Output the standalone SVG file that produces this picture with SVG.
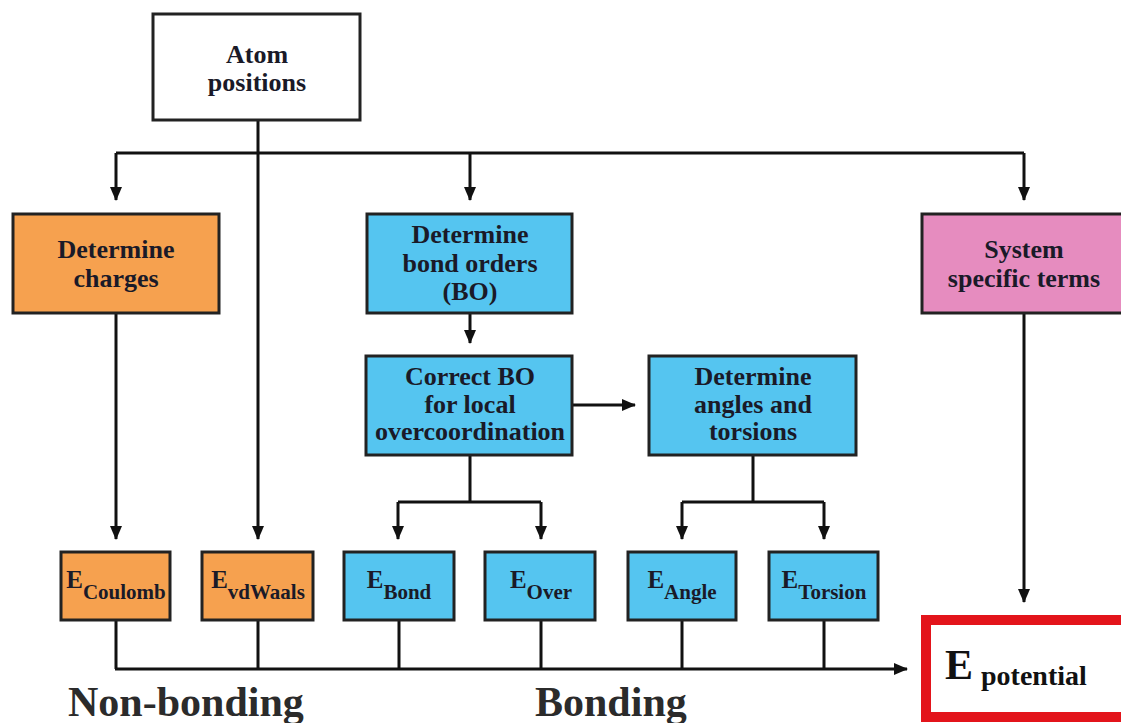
<svg xmlns="http://www.w3.org/2000/svg" width="1121" height="723" viewBox="0 0 1121 723">
<defs>
<marker id="ah" markerUnits="userSpaceOnUse" markerWidth="14" markerHeight="16" refX="13" refY="6" orient="auto">
<path d="M0,0 L14,6 L0,12 Z" fill="#111"/>
</marker>
<style>
.box{stroke:#222;stroke-width:3}
.white{fill:#fff}
.org{fill:#F6A14F}
.blu{fill:#55C5F0}
.pnk{fill:#E68CBF}
.t{font-family:"Liberation Serif","Times New Roman",serif;font-weight:bold;font-size:26px;fill:#1a1a28;text-anchor:middle}
.E{font-size:25px}
.sub{font-size:21px}
.c{fill:none;stroke:#111;stroke-width:3}
.big{font-family:"Liberation Serif","Times New Roman",serif;font-weight:bold;font-size:42px;fill:#2b2b2b}
</style>
</defs>
<rect width="1121" height="723" fill="#fff"/>
<g id="connectors">
<path class="c" d="M258 120 V539" marker-end="url(#ah)"/>
<path class="c" d="M116 153 H1024"/>
<path class="c" d="M116 153 V200" marker-end="url(#ah)"/>
<path class="c" d="M470 153 V200" marker-end="url(#ah)"/>
<path class="c" d="M1024 153 V200" marker-end="url(#ah)"/>
<path class="c" d="M116 313 V539" marker-end="url(#ah)"/>
<path class="c" d="M470 313 V343" marker-end="url(#ah)"/>
<path class="c" d="M572 405 H635" marker-end="url(#ah)"/>
<path class="c" d="M470 455 V502 M398 502 H541"/>
<path class="c" d="M398 502 V539" marker-end="url(#ah)"/>
<path class="c" d="M541 502 V539" marker-end="url(#ah)"/>
<path class="c" d="M753 455 V502 M682 502 H824"/>
<path class="c" d="M682 502 V539" marker-end="url(#ah)"/>
<path class="c" d="M824 502 V539" marker-end="url(#ah)"/>
<path class="c" d="M1024 313 V602" marker-end="url(#ah)"/>
<path class="c" d="M116 620 V669 M258 620 V669 M399 620 V669 M541 620 V669 M682 620 V669 M824 620 V669"/>
<path class="c" d="M115 669 H907" marker-end="url(#ah)"/>
</g>
<g id="atom">
<rect class="box white" x="153" y="14" width="207" height="106"/>
<text class="t" x="257" y="63">Atom</text>
<text class="t" x="257" y="91">positions</text>
</g>
<g id="charges">
<rect class="box org" x="13" y="214" width="206" height="99"/>
<text class="t" x="116" y="258">Determine</text>
<text class="t" x="116" y="287">charges</text>
</g>
<g id="bondorders">
<rect class="box blu" x="367" y="214" width="205" height="99"/>
<text class="t" x="470" y="243">Determine</text>
<text class="t" x="470" y="272">bond  orders</text>
<text class="t" x="470" y="300">(BO)</text>
</g>
<g id="system">
<rect class="box pnk" x="922" y="214" width="204" height="99"/>
<text class="t" x="1024" y="258">System</text>
<text class="t" x="1024" y="287">specific terms</text>
</g>
<g id="correctbo">
<rect class="box blu" x="366" y="356" width="206" height="99"/>
<text class="t" x="470" y="385">Correct BO</text>
<text class="t" x="470" y="413">for local</text>
<text class="t" x="470" y="440">overcoordination</text>
</g>
<g id="angles">
<rect class="box blu" x="649" y="356" width="207" height="99"/>
<text class="t" x="753" y="385">Determine</text>
<text class="t" x="753" y="413">angles and</text>
<text class="t" x="753" y="440">torsions</text>
</g>
<g id="ecoulomb">
<rect class="box org" x="61" y="552" width="109" height="68"/>
<text class="t" x="116" y="588"><tspan class="E">E</tspan><tspan class="sub" dy="11">Coulomb</tspan></text>
</g>
<g id="evdwaals">
<rect class="box org" x="202" y="552" width="111" height="68"/>
<text class="t" x="258" y="588"><tspan class="E">E</tspan><tspan class="sub" dy="11">vdWaals</tspan></text>
</g>
<g id="ebond">
<rect class="box blu" x="344" y="552" width="110" height="68"/>
<text class="t" x="399" y="588"><tspan class="E">E</tspan><tspan class="sub" dy="11">Bond</tspan></text>
</g>
<g id="eover">
<rect class="box blu" x="485" y="552" width="110" height="68"/>
<text class="t" x="541" y="588"><tspan class="E">E</tspan><tspan class="sub" dy="11">Over</tspan></text>
</g>
<g id="eangle">
<rect class="box blu" x="628" y="552" width="108" height="68"/>
<text class="t" x="682" y="588"><tspan class="E">E</tspan><tspan class="sub" dy="11">Angle</tspan></text>
</g>
<g id="etorsion">
<rect class="box blu" x="769" y="552" width="109" height="68"/>
<text class="t" x="824" y="588"><tspan class="E">E</tspan><tspan class="sub" dy="11">Torsion</tspan></text>
</g>
<g id="epotential">
<rect x="926" y="620" width="200" height="97" fill="#fff" stroke="#E3141B" stroke-width="10"/>
<text x="945" y="679" font-family="Liberation Serif,Times New Roman,serif" font-weight="bold" font-size="42" fill="#111">E</text>
<text x="981" y="685" font-family="Liberation Serif,Times New Roman,serif" font-weight="bold" font-size="28" fill="#111">potential</text>
</g>
<g id="labels">
<text class="big" x="68" y="716">Non-bonding</text>
<text class="big" x="535" y="716">Bonding</text>
</g>
</svg>
